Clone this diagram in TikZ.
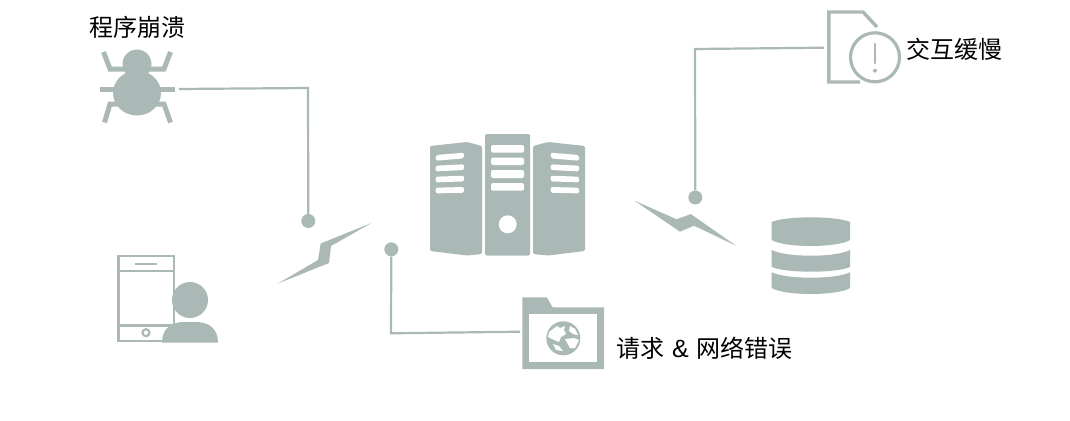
\documentclass[tikz,border=0pt]{standalone}
\usepackage{fontspec}
\setmainfont{Liberation Sans}
\newfontfamily\cjk{Noto Sans CJK SC}
\definecolor{ic}{HTML}{ABB9B6}
\tikzset{
  x=1pt,y=-1pt,
  linkline/.style={draw=ic,line width=2.2pt,line join=miter},
  iconline/.style={draw=ic,line width=3.4pt},
  dotnode/.style={circle,fill=ic,draw=none,minimum size=14pt,inner sep=0pt},
  lbl/.style={inner sep=0pt,text=black,font=\fontsize{24pt}{26pt}\selectfont\cjk,anchor=west},
  leg/.style={draw=ic,line width=5pt,line join=miter}
}
\begin{document}
\begin{tikzpicture}
\useasboundingbox (0,0) rectangle (1070,420);
% labels
\node[lbl] (tcrash) at (89,27) {程序崩溃};
\node[lbl] (tslow) at (906.5,49.5) {交互缓慢};
\node[lbl] (tnet) at (616.5,348) {请求\hspace{7.5pt}{\fontsize{25pt}{26pt}\selectfont\normalfont\&}\hspace{8pt}网络错误};
% bug
\fill[ic] (137,64) circle (14.5);
\fill[ic] (137,93) ellipse (24 and 22.5);
\draw[leg] (103.5,52) -- (110,69) -- (125,69);
\draw[leg] (170.5,52) -- (164,69) -- (149,69);
\draw[leg] (100,89.3) -- (175,89.3);
\draw[leg] (104.5,122.5) -- (110,104) -- (122,104);
\draw[leg] (170.5,122.5) -- (164,104) -- (152,104);
\coordinate (bugend) at (179,89);
\coordinate (c1) at (308,88);
\node[dotnode] (d1) at (308.3,221) {};
\draw[linkline] (bugend) -- (c1) -- (d1);
% phone + person
\draw[draw=ic,line width=2.9pt] (118.5,256) rectangle (174,341);
\draw[draw=ic,line width=2.4pt] (118,271) -- (174,271) (118,325.5) -- (174,325.5);
\draw[draw=ic,line width=2.4pt] (135,263.7) -- (157,263.7);
\draw[draw=ic,line width=2.2pt] (146,332.7) circle (3.5);
\fill[ic] (190,300) circle (18);
\fill[ic] (162,342.5) .. controls (162,328) and (172,322) .. (184,322) -- (196,322) .. controls (208,322) and (218,328) .. (218,342.5) -- cycle;
% left bolt
\fill[ic] (278,283.5) -- (318,260) -- (320.7,243.5) -- (371.5,223) -- (331,246) -- (329,263) -- cycle;
% server
\fill[ic,rounded corners=1.5pt] (430,146) -- (467,142) -- (482,146) -- (482,254) -- (467,255.5) -- (430,251) -- cycle;
\fill[ic,rounded corners=1.5pt] (485,134) rectangle (530,255.5);
\fill[ic,rounded corners=1.5pt] (533,146) -- (548,142) -- (585,146) -- (585,251) -- (548,255.5) -- (533,254) -- cycle;
\fill[white,rounded corners=2pt] (491,145) rectangle (524,152.7);
\fill[white,rounded corners=2pt] (491,157.7) rectangle (524,165);
\fill[white,rounded corners=2pt] (491,170) rectangle (524,178);
\fill[white,rounded corners=2pt] (491,183) rectangle (524,190.7);
\fill[white] (507.7,224.3) circle (9);
\foreach \ya/\yb in {155/152.7,165.7/164.3,176.7/175.7,187.7/187}{
  \fill[white,rounded corners=2pt] (435.7,\ya) -- (464,\yb) -- (464,\yb+5.7) -- (435.7,\ya+5.7) -- cycle;
  \fill[white,rounded corners=2pt] (579,\ya) -- (550.7,\yb) -- (550.7,\yb+5.7) -- (579,\ya+5.7) -- cycle;
}
% lower connector
\node[dotnode] (d2) at (391.3,249.3) {};
\coordinate (c2) at (391,333.3);
\coordinate (folderend) at (520,331.7);
\draw[linkline] (d2) -- (c2) -- (folderend);
% folder
\fill[ic] (522.3,297.3) -- (546.7,297.3) -- (552.7,307.3) -- (604,307.3) -- (604,369) -- (522.3,369) -- cycle;
\fill[white] (529,314.3) rectangle (597.3,362.3);
\fill[ic] (563.3,338.3) circle (17);
\fill[white] (553,329) -- (557,326) -- (560,328) -- (565,326) -- (564,330) -- (566,334) -- (561,337) -- (559,342) -- (552,339) -- (548,337) -- (549,332) -- cycle;
\fill[white] (570,326) -- (575,329) -- (578,335) -- (573,334) -- (569,331) -- cycle;
\fill[white] (565,339) -- (574,338) -- (579,340) -- (575,348) -- (570,348) -- cycle;
\fill[white] (553,344) -- (559,346) -- (563,351) -- (556,350) -- cycle;
% document icon
\draw[iconline,line join=miter] (860,82) -- (828.8,82) -- (828.8,12) -- (863,12) -- (877,27);
\draw[draw=ic,line width=3.2pt] (875,57.3) circle (24.5);
\draw[draw=ic,line width=2.6pt,line cap=round] (875,44) -- (875,63);
\fill[ic] (875,70.7) circle (2);
\coordinate (docend) at (824,47.7);
\coordinate (c3) at (695,49);
\node[dotnode] (d3) at (695.3,197.5) {};
\draw[linkline] (docend) -- (c3) -- (d3);
% right bolt
\fill[ic] (634.5,200.7) -- (676.7,219.3) -- (690.7,214) -- (736,245.7) -- (694,225.7) -- (680,231.7) -- cycle;
% database
\fill[ic] (771.7,222) .. controls (778,219) and (795,217.3) .. (811,217.3) .. controls (827,217.3) and (844,219) .. (850,222) -- (850,240) .. controls (844,244) and (827,246) .. (811,246) .. controls (795,246) and (778,244) .. (771.7,240) -- cycle;
\fill[ic] (771.7,250) .. controls (780,254) and (795,255.7) .. (811,255.7) .. controls (827,255.7) and (842,254) .. (850,250) -- (850,267) .. controls (844,270) and (827,271.7) .. (811,271.7) .. controls (795,271.7) and (778,270) .. (771.7,267) -- cycle;
\fill[ic] (771.7,272.3) .. controls (780,276) and (795,277.7) .. (811,277.7) .. controls (827,277.7) and (842,276) .. (850,272.3) -- (850,288) .. controls (844,292) and (827,294) .. (811,294) .. controls (795,294) and (778,292) .. (771.7,288) -- cycle;
\end{tikzpicture}
\end{document}
